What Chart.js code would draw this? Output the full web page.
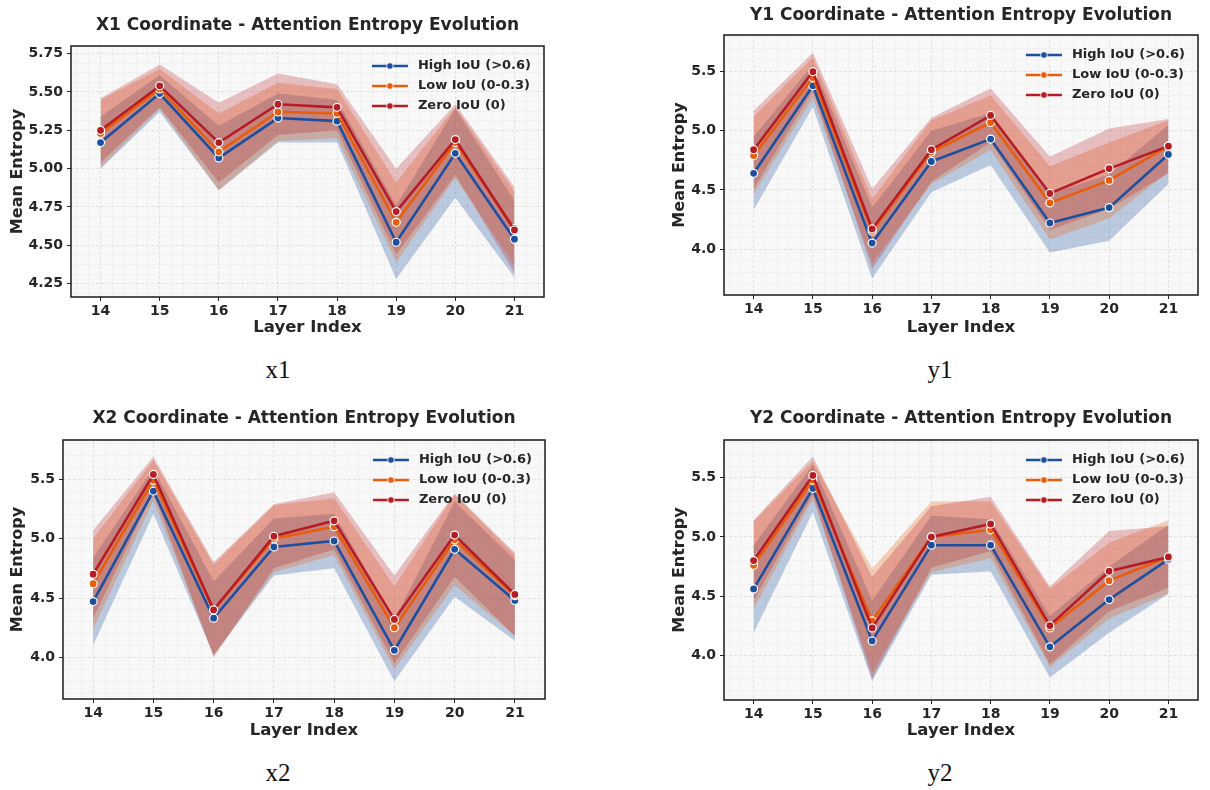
<!DOCTYPE html>
<html>
<head>
<meta charset="utf-8">
<script src="https://cdn.jsdelivr.net/npm/chart.js@4.4.1/dist/chart.umd.min.js"></script>
<style>
  body { margin: 0; width: 1210px; height: 790px; overflow: hidden; background: #fff; position: relative; }
  .box { position: absolute; }
  .cap { position: absolute; font-family: "Liberation Serif", "Times New Roman", serif; font-size: 25px; color: #111; transform: translate(-50%, -50%); }
</style>
</head>
<body>
<div class="box" style="left:0;top:0;width:615px;height:345px"><canvas id="x1"></canvas></div>
<div class="box" style="left:662px;top:0;width:598px;height:345px"><canvas id="y1"></canvas></div>
<div class="box" style="left:0;top:400px;width:608px;height:347px"><canvas id="x2"></canvas></div>
<div class="box" style="left:662px;top:400px;width:598px;height:348px"><canvas id="y2"></canvas></div>
<div class="cap" style="left:278px;top:370px">x1</div>
<div class="cap" style="left:940px;top:370px">y1</div>
<div class="cap" style="left:278px;top:773px">x2</div>
<div class="cap" style="left:940px;top:773px">y2</div>

<script>
// layer indices on the x axis
const layers = [14, 15, 16, 17, 18, 19, 20, 21];
const seriesLabels = ['High IoU (>0.6)', 'Low IoU (0-0.3)', 'Zero IoU (0)'];
const yTicksX1 = [4.25, 4.50, 4.75, 5.00, 5.25, 5.50, 5.75];
const yTicksHalf = [4.0, 4.5, 5.0, 5.5];

// mean entropy and half width of the shaded band, per group
const x1High = [5.17, 5.49, 5.07, 5.33, 5.31, 4.52, 5.10, 4.54];
const x1HighErr = [0.17, 0.12, 0.21, 0.16, 0.14, 0.24, 0.29, 0.25];
const x1Low = [5.23, 5.52, 5.11, 5.37, 5.36, 4.65, 5.17, 4.61];
const x1LowErr = [0.22, 0.13, 0.25, 0.19, 0.16, 0.26, 0.23, 0.24];
const x1Zero = [5.25, 5.54, 5.17, 5.42, 5.40, 4.72, 5.19, 4.60];
const x1ZeroErr = [0.21, 0.14, 0.26, 0.20, 0.15, 0.28, 0.23, 0.28];

const y1High = [4.64, 5.38, 4.05, 4.74, 4.93, 4.22, 4.35, 4.80];
const y1HighErr = [0.31, 0.18, 0.30, 0.26, 0.22, 0.25, 0.28, 0.25];
const y1Low = [4.79, 5.45, 4.15, 4.82, 5.07, 4.39, 4.58, 4.87];
const y1LowErr = [0.33, 0.17, 0.27, 0.27, 0.23, 0.31, 0.32, 0.22];
const y1Zero = [4.84, 5.50, 4.17, 4.84, 5.13, 4.47, 4.68, 4.87];
const y1ZeroErr = [0.33, 0.16, 0.34, 0.27, 0.23, 0.31, 0.34, 0.23];

const x2High = [4.47, 5.40, 4.33, 4.93, 4.98, 4.06, 4.91, 4.48];
const x2HighErr = [0.37, 0.19, 0.31, 0.24, 0.23, 0.26, 0.40, 0.34];
const x2Low = [4.62, 5.49, 4.40, 5.00, 5.10, 4.25, 4.99, 4.52];
const x2LowErr = [0.38, 0.17, 0.38, 0.28, 0.24, 0.35, 0.38, 0.34];
const x2Zero = [4.70, 5.54, 4.40, 5.02, 5.15, 4.32, 5.03, 4.53];
const x2ZeroErr = [0.37, 0.15, 0.40, 0.27, 0.24, 0.37, 0.35, 0.35];

const y2High = [4.56, 5.41, 4.12, 4.93, 4.93, 4.07, 4.47, 4.81];
const y2HighErr = [0.37, 0.20, 0.34, 0.25, 0.22, 0.26, 0.28, 0.29];
const y2Low = [4.76, 5.48, 4.29, 5.00, 5.06, 4.23, 4.63, 4.83];
const y2LowErr = [0.37, 0.16, 0.44, 0.30, 0.24, 0.33, 0.32, 0.31];
const y2Zero = [4.80, 5.52, 4.23, 5.00, 5.11, 4.25, 4.71, 4.83];
const y2ZeroErr = [0.34, 0.16, 0.43, 0.26, 0.23, 0.33, 0.34, 0.26];

const lineColors = ['#1d4f9f', '#e85d0c', '#b71c24'];
const bandColors = ['rgba(29,79,159,0.28)', 'rgba(232,93,12,0.28)', 'rgba(183,28,36,0.26)'];
const textColor = '#262626';

Chart.defaults.font.family = "'DejaVu Sans', sans-serif";
Chart.defaults.color = textColor;

// major ticks plus matplotlib-style minor ticks (grid only)
function tickSet(major, div, lo, hi) {
  const step = (major[1] - major[0]) / div;
  const out = [];
  const k0 = Math.ceil((lo - major[0]) / step - 1e-9);
  const k1 = Math.floor((hi - major[0]) / step + 1e-9);
  for (let k = k0; k <= k1; k++) {
    const v = Math.round((major[0] + k * step) * 1e6) / 1e6;
    const isMajor = major.some(m => Math.abs(m - v) < 1e-6);
    out.push({ value: v, minor: !isMajor });
  }
  return out;
}

const framePlugin = {
  id: 'frame',
  beforeDraw(chart) {
    const { ctx, chartArea: a } = chart;
    ctx.save();
    ctx.fillStyle = '#f8f8f8';
    ctx.fillRect(a.left, a.top, a.width, a.height);
    ctx.restore();
  },
  afterDatasetsDraw(chart) {
    const { ctx, chartArea: a } = chart;
    ctx.save();
    ctx.strokeStyle = '#1a1a1a';
    ctx.lineWidth = 1.5;
    ctx.strokeRect(a.left, a.top, a.width, a.height);

    // legend in the upper right corner, line + marker handles
    ctx.font = 'bold 13px "DejaVu Sans"';
    const tw = Math.max(...seriesLabels.map(t => ctx.measureText(t).width));
    const tx = a.right - 13 - tw;
    seriesLabels.forEach((t, s) => {
      const y = a.top + 20 + s * 20;
      ctx.strokeStyle = lineColors[s];
      ctx.lineWidth = 2.6;
      ctx.beginPath();
      ctx.moveTo(tx - 46, y);
      ctx.lineTo(tx - 10, y);
      ctx.stroke();
      ctx.beginPath();
      ctx.arc(tx - 28, y, 3.3, 0, Math.PI * 2);
      ctx.fillStyle = lineColors[s];
      ctx.fill();
      ctx.strokeStyle = '#fff';
      ctx.lineWidth = 0.8;
      ctx.stroke();
      ctx.fillStyle = textColor;
      ctx.textBaseline = 'middle';
      ctx.textAlign = 'left';
      ctx.fillText(t, tx, y);
    });
    ctx.restore();
  }
};

function pts(vals) {
  return layers.map((x, i) => ({ x: x, y: vals[i] }));
}

function entropyChart(id, title, means, errs, yr, yTicks, yDiv, yDigits, lay) {
  const datasets = [];
  // lines first so they sit above the bands; zero IoU on top
  for (let s = 2; s >= 0; s--) {
    datasets.push({
      label: seriesLabels[s],
      data: pts(means[s]),
      borderColor: lineColors[s],
      backgroundColor: lineColors[s],
      borderWidth: 2.6,
      pointRadius: 4,
      pointBackgroundColor: lineColors[s],
      pointBorderColor: '#ffffff',
      pointBorderWidth: 1.2,
      fill: false,
      tension: 0
    });
  }
  for (let s = 2; s >= 0; s--) {
    datasets.push({
      label: seriesLabels[s] + ' upper',
      data: pts(means[s].map((m, i) => m + errs[s][i])),
      borderWidth: 0,
      pointRadius: 0,
      fill: false
    });
    datasets.push({
      label: seriesLabels[s] + ' lower',
      data: pts(means[s].map((m, i) => m - errs[s][i])),
      borderWidth: 0,
      pointRadius: 0,
      backgroundColor: bandColors[s],
      fill: '-1'
    });
  }

  const isMinor = c => c.tick && c.tick.minor;

  return new Chart(document.getElementById(id), {
    type: 'line',
    data: { datasets: datasets },
    plugins: [framePlugin],
    options: {
      responsive: true,
      maintainAspectRatio: false,
      animation: false,
      layout: { padding: 0 },
      plugins: {
        legend: { display: false },
        tooltip: { enabled: false },
        filler: { drawTime: 'beforeDatasetsDraw' },
        title: {
          display: true,
          text: title,
          color: textColor,
          font: { size: 17, weight: 'bold' },
          padding: { top: lay.tTop, bottom: lay.tBot }
        }
      },
      scales: {
        x: {
          type: 'linear',
          min: 13.5,
          max: 21.5,
          afterBuildTicks: sc => { sc.ticks = tickSet(layers, 5, 13.5, 21.5); },
          afterFit: sc => { sc.height = lay.xh; },
          ticks: {
            autoSkip: false,
            maxRotation: 0,
            padding: 2,
            color: textColor,
            font: { size: 14, weight: 'bold' },
            callback: (v, i, t) => (t[i].minor ? '' : String(v))
          },
          grid: {
            color: c => (isMinor(c) ? '#ededed' : '#dadada'),
            lineWidth: c => (isMinor(c) ? 0.6 : 0.8),
            tickLength: 4,
            tickWidth: 1,
            tickColor: c => (isMinor(c) ? 'rgba(0,0,0,0)' : textColor)
          },
          border: { display: false, dash: c => (isMinor(c) ? [] : [3, 2]) },
          title: {
            display: true,
            text: 'Layer Index',
            color: textColor,
            font: { size: 16.5, weight: 'bold' },
            padding: { top: 0, bottom: lay.xPad }
          }
        },
        y: {
          type: 'linear',
          min: yr[0],
          max: yr[1],
          afterBuildTicks: sc => { sc.ticks = tickSet(yTicks, yDiv, yr[0], yr[1]); },
          afterFit: sc => { sc.width = lay.yw; },
          ticks: {
            autoSkip: false,
            padding: 4,
            color: textColor,
            font: { size: 14, weight: 'bold' },
            callback: (v, i, t) => (t[i].minor ? '' : v.toFixed(yDigits))
          },
          grid: {
            color: c => (isMinor(c) ? '#ededed' : '#dadada'),
            lineWidth: c => (isMinor(c) ? 0.6 : 0.8),
            tickLength: 4,
            tickWidth: 1,
            tickColor: c => (isMinor(c) ? 'rgba(0,0,0,0)' : textColor)
          },
          border: { display: false, dash: c => (isMinor(c) ? [] : [3, 2]) },
          title: {
            display: true,
            text: 'Mean Entropy',
            color: textColor,
            font: { size: 16, weight: 'bold' },
            padding: { top: 8.4, bottom: 0 }
          }
        },
        // empty right-hand axis so the title centres over the plot
        yPad: {
          position: 'right',
          display: true,
          afterFit: sc => { sc.width = lay.yw; },
          ticks: { display: false },
          grid: { display: false, drawTicks: false },
          border: { display: false }
        }
      }
    }
  });
}

entropyChart('x1', 'X1 Coordinate - Attention Entropy Evolution',
  [x1High, x1Low, x1Zero], [x1HighErr, x1LowErr, x1ZeroErr],
  [4.163, 5.80], yTicksX1, 4, 2,
  { yw: 71, xh: 48, tTop: 15.5, tBot: 10.1, xPad: 7.4 });

entropyChart('y1', 'Y1 Coordinate - Attention Entropy Evolution',
  [y1High, y1Low, y1Zero], [y1HighErr, y1LowErr, y1ZeroErr],
  [3.611, 5.81], yTicksHalf, 5, 1,
  { yw: 62, xh: 50, tTop: 5, tBot: 9.6, xPad: 7.4 });

entropyChart('x2', 'X2 Coordinate - Attention Entropy Evolution',
  [x2High, x2Low, x2Zero], [x2HighErr, x2LowErr, x2ZeroErr],
  [3.65, 5.83], yTicksHalf, 5, 1,
  { yw: 63, xh: 48, tTop: 8, tBot: 11.6, xPad: 6.4 });

entropyChart('y2', 'Y2 Coordinate - Attention Entropy Evolution',
  [y2High, y2Low, y2Zero], [y2HighErr, y2LowErr, y2ZeroErr],
  [3.62, 5.82], yTicksHalf, 5, 1,
  { yw: 62, xh: 48, tTop: 8, tBot: 11.6, xPad: 7.4 });
</script>
</body>
</html>
